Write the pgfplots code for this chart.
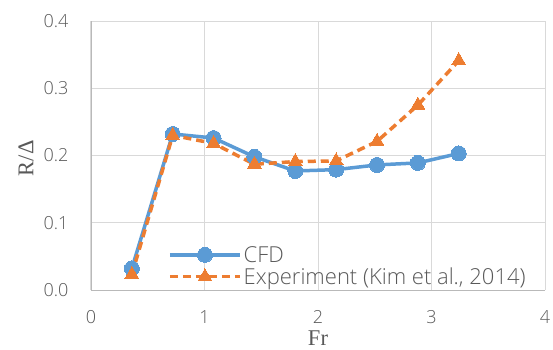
\documentclass[border=0pt]{standalone}
\usepackage{fontspec}
\setmainfont{Open Sans}[UprightFont=* Light]
\newfontfamily\serif{Liberation Serif}
\usepackage{pgfplots}
\pgfplotsset{compat=1.18}
\definecolor{cfd}{HTML}{5B9BD5}
\definecolor{expc}{HTML}{ED7D31}
\definecolor{gridc}{HTML}{D9D9D9}
\definecolor{txt}{HTML}{595959}
\begin{document}
\begin{tikzpicture}
\path[use as bounding box] (-91pt,-59pt) rectangle (462pt,290pt);
\begin{axis}[
  scale only axis, width=454pt, height=269pt,
  xmin=0, xmax=4, ymin=0, ymax=0.4,
  xtick={0,1,2,3,4}, ytick={0,0.1,0.2,0.3,0.4},
  y tick label style={/pgf/number format/fixed, /pgf/number format/fixed zerofill, /pgf/number format/precision=1},
  /pgf/number format/assume math mode=true,
  grid=major, major grid style={gridc, line width=1pt},
  axis line style={draw=none},
  tick style={draw=none},
  ticklabel style={font=\fontsize{18}{20}\selectfont, text=txt},
  xticklabel style={yshift=-17pt},
  yticklabel style={xshift=-19pt},
  xlabel={\serif Fr}, ylabel={\serif R/Δ},
  label style={font=\fontsize{22.5}{24}\selectfont, text=txt, inner sep=0pt},
  xlabel style={at={(axis description cs:0.5,-0.178)}, anchor=center},
  ylabel style={at={(axis description cs:-0.143,0.49)}, anchor=center},
  legend style={draw=none, fill=none, at={(0.163,0.0)}, anchor=south west,
    font=\fontsize{22}{23}\selectfont, text=txt, row sep=0pt,
    /tikz/every even column/.append style={column sep=2pt}},
  legend cell align=left,
  legend image code/.code={
    \draw[mark repeat=2, mark phase=2, #1] plot coordinates {(0pt,0pt) (35pt,0pt) (70pt,0pt)};
  },
]
\addplot[cfd, line width=3.5pt, mark=*, mark size=7.5pt, mark options={solid, fill=cfd, draw=cfd, line width=0pt}]
  coordinates {(0.36,0.032) (0.72,0.232) (1.08,0.226) (1.44,0.198) (1.80,0.177) (2.16,0.179) (2.52,0.186) (2.88,0.189) (3.24,0.203)};
\addlegendentry{CFD}
\addplot[expc, line width=3.5pt, dash pattern=on 8pt off 5pt, mark=triangle*, mark size=8pt, mark options={solid, fill=expc, draw=expc, line width=0pt}]
  coordinates {(0.36,0.023) (0.72,0.230) (1.08,0.218) (1.44,0.187) (1.80,0.191) (2.16,0.192) (2.52,0.221) (2.88,0.275) (3.24,0.341)};
\addlegendentry{Experiment (Kim et al., 2014)}
\end{axis}
\draw[gray!55, line width=1pt] (0,0) -- (0,269pt);
\draw[gray!55, line width=1pt] (0,0) -- (454pt,0);
\end{tikzpicture}
\end{document}
